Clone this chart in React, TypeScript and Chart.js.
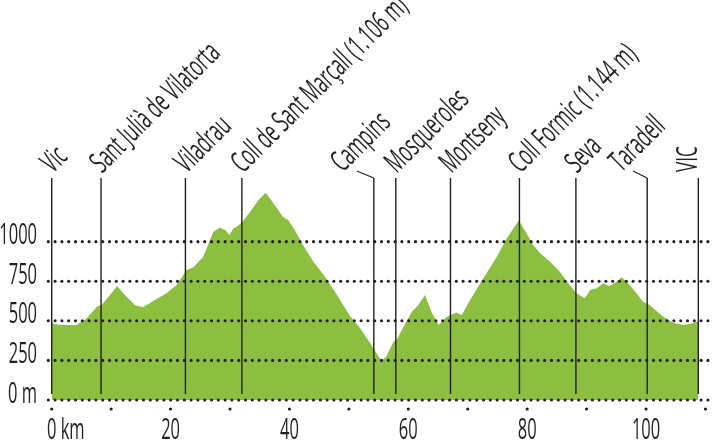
import React, { useEffect, useRef } from "react";
import { Chart, registerables } from "chart.js";

Chart.register(...registerables);

// Elevation profile (km, metres)
const distanceKm = [
  0, 0.4, 1.7, 4.2, 5.9, 7.6, 8.4, 9.8, 11.0, 12.3,
  14.0, 15.3, 17.4, 19.3, 21.0, 22.7, 23.8, 25.5, 27.2, 28.3,
  29.2, 29.9, 30.6, 31.2, 32.1, 33.4, 34.8, 36.0, 36.7, 37.9,
  38.9, 39.8, 40.9, 42.3, 44.0, 46.0, 48.0, 50.2, 51.9, 53.6,
  55.0, 55.5, 56.3, 57.5, 58.1, 59.2, 60.6, 61.7, 62.8, 63.9,
  65.1, 66.5, 68.1, 69.0, 70.4, 72.6, 74.9, 76.6, 77.7, 78.6,
  79.9, 81.0, 82.2, 83.8, 85.5, 86.9, 88.3, 89.7, 90.6, 91.7,
  92.8, 93.8, 95.1, 95.9, 97.0, 98.4, 99.5, 100.6, 102.9, 104.6,
  106.3, 107.4, 108.8,
];
const elevationM = [
  495, 480, 474, 474, 516, 589, 600, 663, 720, 663,
  600, 585, 632, 674, 726, 821, 836, 905, 1063, 1088,
  1074, 1042, 1084, 1095, 1126, 1189, 1263, 1309, 1274, 1211,
  1158, 1137, 1074, 979, 874, 779, 663, 530, 453, 358,
  274, 248, 274, 368, 383, 463, 558, 600, 663, 558,
  474, 526, 552, 537, 632, 768, 905, 1021, 1084, 1133,
  1053, 979, 926, 874, 810, 737, 674, 642, 695, 705,
  737, 720, 747, 775, 737, 674, 621, 600, 526, 488,
  474, 480, 495,
];

// Waypoints
const placeNames = [
  "Vic",
  "Sant Julià de Vilatorta",
  "Viladrau",
  "Coll de Sant Marçall (1.106 m)",
  "Campins",
  "Mosqueroles",
  "Montseny",
  "Coll Formic (1.144 m)",
  "Seva",
  "Taradell",
  "VIC",
];
const placeKm = [0, 8.3, 22.5, 32.0, 54.2, 57.9, 67.1, 78.7, 88.2, 100.2, 108.8];

// Axis ticks
const xTickValues = [0, 10, 20, 30, 40, 50, 60, 70, 80, 90, 100, 110];
const xLabelValues = [0, 20, 40, 60, 80, 100];
const xLabelTexts = ["0 km", "20", "40", "60", "80", "100"];
const yTickValues = [0, 250, 500, 750, 1000];
const yLabelTexts = ["0 m", "250", "500", "750", "1000"];

const FONT = "30px 'Open Sans', 'Noto Sans', sans-serif";
const SQUEEZE = 0.57;
const INK = "#231f20";
const GREEN = "#8cbf3f";

// label layout tweaks (style only)
const leaderShift: Record<string, number> = { Campins: 31, Taradell: 26 };
const verticalLabel = new Set(["VIC"]);

function drawSqueezed(
  ctx: CanvasRenderingContext2D,
  text: string,
  x: number,
  y: number,
  angle: number,
  align: CanvasTextAlign,
  squeeze: number = SQUEEZE
) {
  ctx.save();
  ctx.translate(x, y);
  ctx.rotate(angle);
  ctx.scale(squeeze, 1);
  ctx.textAlign = align;
  ctx.textBaseline = "alphabetic";
  ctx.fillText(text, 0, 0);
  ctx.restore();
}

function dotRow(ctx: CanvasRenderingContext2D, x0: number, x1: number, y: number) {
  const step = 6.8;
  for (let x = x0; x <= x1 + 0.5; x += step) {
    ctx.beginPath();
    ctx.arc(x, y, 1.55, 0, Math.PI * 2);
    ctx.fill();
  }
}

const overlayPlugin = {
  id: "profileOverlay",
  afterDatasetsDraw(chart: any) {
    const ctx: CanvasRenderingContext2D = chart.ctx;
    const xs = chart.scales.x;
    const ys = chart.scales.y;
    const zeroY = ys.getPixelForValue(0);
    const lineTop = 178;

    ctx.save();
    ctx.fillStyle = INK;
    ctx.strokeStyle = INK;
    ctx.font = FONT;

    // waypoint lines + labels
    placeNames.forEach((name, i) => {
      const px = xs.getPixelForValue(placeKm[i]);
      ctx.lineWidth = 1.4;
      ctx.beginPath();
      ctx.moveTo(px, lineTop);
      ctx.lineTo(px, zeroY - 6);
      ctx.stroke();
      if (verticalLabel.has(name)) {
        drawSqueezed(ctx, name, px - 1, lineTop - 6, -Math.PI / 2, "left");
      } else if (leaderShift[name]) {
        const s = leaderShift[name];
        ctx.lineWidth = 1.1;
        ctx.beginPath();
        ctx.moveTo(px - s * 0.55, lineTop - 7);
        ctx.lineTo(px, lineTop);
        ctx.stroke();
        drawSqueezed(ctx, name, px - s, lineTop - 5, -Math.PI / 4, "left");
      } else {
        drawSqueezed(ctx, name, px + 1, lineTop - 4, -Math.PI / 4, "left");
      }
    });

    // dotted grid lines
    yTickValues.forEach((v) => {
      const py = ys.getPixelForValue(v);
      dotRow(ctx, 48.3, chart.width, py);
    });

    // x tick dots
    xTickValues.forEach((v) => {
      const px = xs.getPixelForValue(v);
      ctx.beginPath();
      ctx.arc(px, zeroY + 9, 1.6, 0, Math.PI * 2);
      ctx.fill();
    });

    // y labels
    yTickValues.forEach((v, i) => {
      const py = ys.getPixelForValue(v);
      drawSqueezed(ctx, yLabelTexts[i], 37, py + 2.5, 0, "right", 0.55);
    });

    // x labels
    xLabelValues.forEach((v, i) => {
      const px = xs.getPixelForValue(v);
      const txt = xLabelTexts[i];
      if (i === 0) {
        const w0 = ctx.measureText("0").width * 0.55;
        drawSqueezed(ctx, txt, px - w0 / 2, zeroY + 39, 0, "left", 0.55);
      } else {
        drawSqueezed(ctx, txt, px, zeroY + 39, 0, "center", 0.55);
      }
    });
    ctx.restore();
  },
};

export default function App() {
  const canvasRef = useRef<HTMLCanvasElement | null>(null);

  useEffect(() => {
    if (!canvasRef.current) return;
    const chart = new Chart(canvasRef.current, {
      type: "line",
      data: {
        datasets: [
          {
            data: distanceKm.map((d, i) => ({ x: d, y: elevationM[i] })),
            fill: "origin",
            backgroundColor: GREEN,
            borderWidth: 0,
            borderColor: GREEN,
            pointRadius: 0,
            tension: 0,
          },
        ],
      },
      options: {
        animation: false,
        responsive: true,
        maintainAspectRatio: false,
        layout: { padding: 0 },
        plugins: {
          legend: { display: false },
          tooltip: { enabled: false },
        },
        scales: {
          x: {
            type: "linear",
            min: 0,
            max: 111.1,
            grid: { display: false },
            border: { display: false },
            ticks: { display: false },
            afterBuildTicks: (scale: any) => {
              scale.ticks = xTickValues.map((v) => ({ value: v }));
            },
            afterFit: (scale: any) => {
              scale.height = 45;
            },
          },
          y: {
            type: "linear",
            min: 0,
            max: 2526,
            grid: { display: false },
            border: { display: false },
            ticks: { display: false },
            afterBuildTicks: (scale: any) => {
              scale.ticks = yTickValues.map((v) => ({ value: v }));
            },
            afterFit: (scale: any) => {
              scale.width = 51.7;
            },
          },
        },
      },
      plugins: [overlayPlugin],
    });
    return () => chart.destroy();
  }, []);

  return (
    <div
      style={{
        position: "fixed",
        left: 0,
        top: 0,
        width: "712px",
        height: "445px",
        background: "#ffffff",
      }}
    >
      <canvas ref={canvasRef} />
    </div>
  );
}
